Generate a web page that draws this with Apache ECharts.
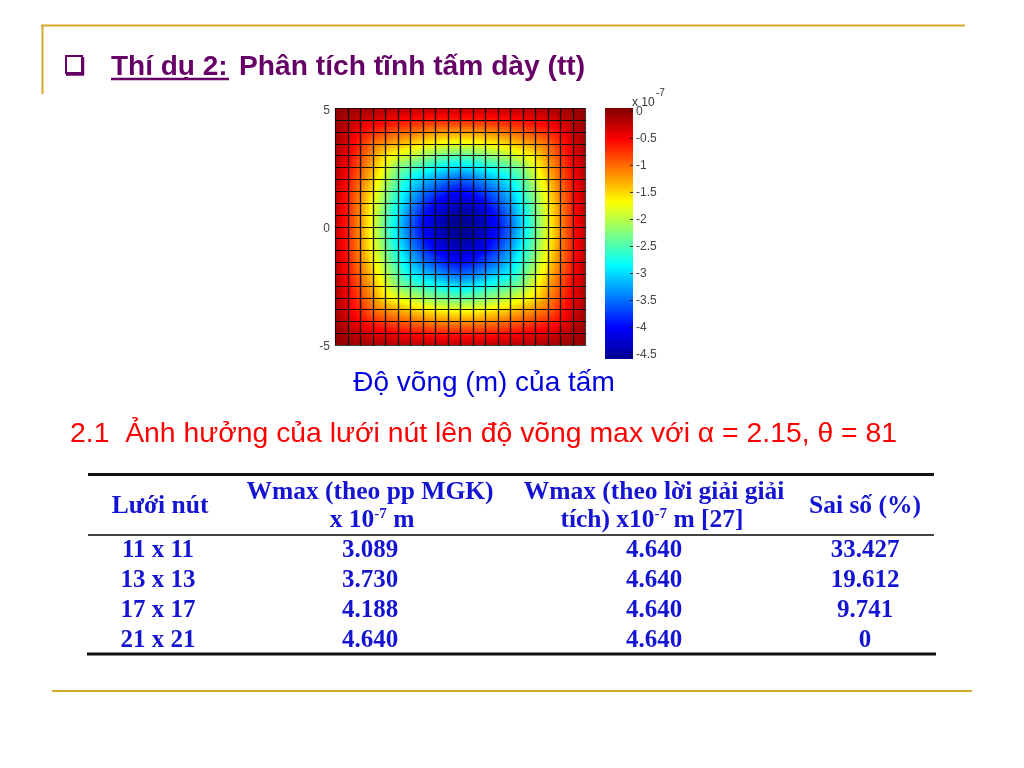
<!DOCTYPE html>
<html>
<head>
<meta charset="utf-8">
<style>html,body{margin:0;padding:0;background:#fff}#c{width:1024px;height:768px}</style>
<script src="https://cdn.jsdelivr.net/npm/echarts@6/dist/echarts.min.js"></script>
</head>
<body>
<div id="c"></div>
<script>
// Plate deflection, x 10^-7 m (21 x 21 nodes, top row first)
const xNodes = [-5,-4.5,-4,-3.5,-3,-2.5,-2,-1.5,-1,-0.5,0,0.5,1,1.5,2,2.5,3,3.5,4,4.5,5];
const yNodes = [5,4.5,4,3.5,3,2.5,2,1.5,1,0.5,0,-0.5,-1,-1.5,-2,-2.5,-3,-3.5,-4,-4.5,-5];
const deflection = [
[-0.02,-0.05,-0.08,-0.11,-0.14,-0.16,-0.18,-0.20,-0.21,-0.22,-0.22,-0.22,-0.21,-0.20,-0.18,-0.16,-0.14,-0.11,-0.08,-0.05,-0.02],
[-0.05,-0.16,-0.28,-0.38,-0.46,-0.52,-0.58,-0.62,-0.65,-0.66,-0.66,-0.66,-0.65,-0.62,-0.58,-0.52,-0.46,-0.38,-0.28,-0.16,-0.05],
[-0.08,-0.28,-0.55,-0.70,-0.82,-0.92,-1.00,-1.09,-1.15,-1.18,-1.20,-1.18,-1.15,-1.09,-1.00,-0.92,-0.82,-0.70,-0.55,-0.28,-0.08],
[-0.11,-0.38,-0.70,-1.02,-1.18,-1.32,-1.45,-1.58,-1.68,-1.74,-1.78,-1.74,-1.68,-1.58,-1.45,-1.32,-1.18,-1.02,-0.70,-0.38,-0.11],
[-0.14,-0.46,-0.82,-1.18,-1.58,-1.76,-1.96,-2.12,-2.26,-2.36,-2.42,-2.36,-2.26,-2.12,-1.96,-1.76,-1.58,-1.18,-0.82,-0.46,-0.14],
[-0.16,-0.52,-0.92,-1.32,-1.76,-2.24,-2.44,-2.62,-2.78,-2.92,-3.00,-2.92,-2.78,-2.62,-2.44,-2.24,-1.76,-1.32,-0.92,-0.52,-0.16],
[-0.18,-0.58,-1.00,-1.45,-1.96,-2.44,-2.86,-3.08,-3.28,-3.46,-3.56,-3.46,-3.28,-3.08,-2.86,-2.44,-1.96,-1.45,-1.00,-0.58,-0.18],
[-0.20,-0.62,-1.09,-1.58,-2.12,-2.62,-3.08,-3.46,-3.68,-3.88,-3.98,-3.88,-3.68,-3.46,-3.08,-2.62,-2.12,-1.58,-1.09,-0.62,-0.20],
[-0.21,-0.65,-1.15,-1.68,-2.26,-2.78,-3.28,-3.68,-3.98,-4.20,-4.30,-4.20,-3.98,-3.68,-3.28,-2.78,-2.26,-1.68,-1.15,-0.65,-0.21],
[-0.22,-0.66,-1.18,-1.74,-2.36,-2.92,-3.46,-3.88,-4.20,-4.42,-4.52,-4.42,-4.20,-3.88,-3.46,-2.92,-2.36,-1.74,-1.18,-0.66,-0.22],
[-0.22,-0.66,-1.20,-1.78,-2.42,-3.00,-3.56,-3.98,-4.30,-4.52,-4.64,-4.52,-4.30,-3.98,-3.56,-3.00,-2.42,-1.78,-1.20,-0.66,-0.22],
[-0.22,-0.66,-1.18,-1.74,-2.36,-2.92,-3.46,-3.88,-4.20,-4.42,-4.52,-4.42,-4.20,-3.88,-3.46,-2.92,-2.36,-1.74,-1.18,-0.66,-0.22],
[-0.21,-0.65,-1.15,-1.68,-2.26,-2.78,-3.28,-3.68,-3.98,-4.20,-4.30,-4.20,-3.98,-3.68,-3.28,-2.78,-2.26,-1.68,-1.15,-0.65,-0.21],
[-0.20,-0.62,-1.09,-1.58,-2.12,-2.62,-3.08,-3.46,-3.68,-3.88,-3.98,-3.88,-3.68,-3.46,-3.08,-2.62,-2.12,-1.58,-1.09,-0.62,-0.20],
[-0.18,-0.58,-1.00,-1.45,-1.96,-2.44,-2.86,-3.08,-3.28,-3.46,-3.56,-3.46,-3.28,-3.08,-2.86,-2.44,-1.96,-1.45,-1.00,-0.58,-0.18],
[-0.16,-0.52,-0.92,-1.32,-1.76,-2.24,-2.44,-2.62,-2.78,-2.92,-3.00,-2.92,-2.78,-2.62,-2.44,-2.24,-1.76,-1.32,-0.92,-0.52,-0.16],
[-0.14,-0.46,-0.82,-1.18,-1.58,-1.76,-1.96,-2.12,-2.26,-2.36,-2.42,-2.36,-2.26,-2.12,-1.96,-1.76,-1.58,-1.18,-0.82,-0.46,-0.14],
[-0.11,-0.38,-0.70,-1.02,-1.18,-1.32,-1.45,-1.58,-1.68,-1.74,-1.78,-1.74,-1.68,-1.58,-1.45,-1.32,-1.18,-1.02,-0.70,-0.38,-0.11],
[-0.08,-0.28,-0.55,-0.70,-0.82,-0.92,-1.00,-1.09,-1.15,-1.18,-1.20,-1.18,-1.15,-1.09,-1.00,-0.92,-0.82,-0.70,-0.55,-0.28,-0.08],
[-0.05,-0.16,-0.28,-0.38,-0.46,-0.52,-0.58,-0.62,-0.65,-0.66,-0.66,-0.66,-0.65,-0.62,-0.58,-0.52,-0.46,-0.38,-0.28,-0.16,-0.05],
[-0.02,-0.05,-0.08,-0.11,-0.14,-0.16,-0.18,-0.20,-0.21,-0.22,-0.22,-0.22,-0.21,-0.20,-0.18,-0.16,-0.14,-0.11,-0.08,-0.05,-0.02]
];
const colorMin = -4.58;
const colorMax = 0.06;
const jetStops = [[0,0,0,144],[0.125,0,0,255],[0.375,0,255,255],[0.625,255,255,0],[0.875,255,0,0],[1,128,0,0]];
const barTicks = [0,-0.5,-1,-1.5,-2,-2.5,-3,-3.5,-4,-4.5];

const titleLead = 'Thí dụ 2:';
const titleRest = 'Phân tích tĩnh tấm dày (tt)';
const captionText = 'Độ võng (m) của tấm';
const sectionText = '2.1  Ảnh hưởng của lưới nút lên độ võng max với α = 2.15, θ = 81';
const meshLabels = ['11 x 11','13 x 13','17 x 17','21 x 21'];
const wmaxFem = ['3.089','3.730','4.188','4.640'];
const wmaxExact = ['4.640','4.640','4.640','4.640'];
const errorPct = ['33.427','19.612','9.741','0'];

const GOLD = '#d6a92c', PURPLE = '#660066', TBLUE = '#1414d2';
const SUBDIV = 5;

function jet(v) {
  const t = Math.max(0, Math.min(1, (v - colorMin) / (colorMax - colorMin)));
  for (let k = 1; k < jetStops.length; k++) {
    const a = jetStops[k - 1], b = jetStops[k];
    if (t <= b[0]) {
      const f = (t - a[0]) / (b[0] - a[0]);
      return 'rgb(' + [1, 2, 3].map(c => Math.round(a[c] + (b[c] - a[c]) * f)).join(',') + ')';
    }
  }
  return 'rgb(128,0,0)';
}

const cells = [];
for (let r = 0; r < yNodes.length - 1; r++) {
  for (let c = 0; c < xNodes.length - 1; c++) cells.push([c, r]);
}

function renderCell(params, api) {
  const c = api.value(0), r = api.value(1);
  const p0 = api.coord([xNodes[c], yNodes[r]]);
  const p1 = api.coord([xNodes[c + 1], yNodes[r + 1]]);
  const w = p1[0] - p0[0], h = p1[1] - p0[1];
  const children = [];
  // interpolated shading between the four corner nodes of the cell
  for (let i = 0; i < SUBDIV; i++) {
    for (let j = 0; j < SUBDIV; j++) {
      const u = (i + 0.5) / SUBDIV, v = (j + 0.5) / SUBDIV;
      const val = deflection[r][c] * (1 - u) * (1 - v) + deflection[r][c + 1] * u * (1 - v)
        + deflection[r + 1][c] * (1 - u) * v + deflection[r + 1][c + 1] * u * v;
      const right = i === SUBDIV - 1 && c === xNodes.length - 2;
      const bottom = j === SUBDIV - 1 && r === yNodes.length - 2;
      children.push({
        type: 'rect',
        shape: { x: p0[0] + w * i / SUBDIV, y: p0[1] + h * j / SUBDIV,
          width: w / SUBDIV + (right ? 0 : 0.6), height: h / SUBDIV + (bottom ? 0 : 0.6) },
        style: { fill: jet(val) }, silent: true
      });
    }
  }
  return { type: 'group', children };
}

// mesh lines, drawn as their own series above all the shading
function renderMesh(params, api) {
  const c = api.value(0), r = api.value(1);
  const p0 = api.coord([xNodes[c], yNodes[r]]);
  const p1 = api.coord([xNodes[c + 1], yNodes[r + 1]]);
  const sx0 = Math.round(p0[0]) + 0.5, sy0 = Math.round(p0[1]) + 0.5;
  const sx1 = Math.round(p1[0]) + 0.5, sy1 = Math.round(p1[1]) + 0.5;
  return {
    type: 'rect',
    shape: { x: sx0, y: sy0, width: sx1 - sx0, height: sy1 - sy0 },
    style: { fill: 'none', stroke: 'rgba(10,10,10,0.78)', lineWidth: 1.2 }, silent: true
  };
}

function renderBar(params, api) {
  const a = api.coord([0, colorMax]), b = api.coord([1, colorMin]);
  const children = [{
    type: 'rect',
    shape: { x: a[0], y: a[1], width: b[0] - a[0], height: b[1] - a[1] },
    style: {
      fill: new echarts.graphic.LinearGradient(0, 1, 0, 0, jetStops.map(s => ({
        offset: s[0], color: 'rgb(' + s[1] + ',' + s[2] + ',' + s[3] + ')'
      })))
    }
  }];
  barTicks.forEach(t => {
    const p = api.coord([1, t]);
    children.push({ type: 'line', shape: { x1: p[0] - 3, y1: p[1], x2: p[0], y2: p[1] }, style: { stroke: '#222', lineWidth: 1 } });
  });
  return { type: 'group', children };
}

function hline(x1, x2, y, w, color) {
  return { type: 'line', shape: { x1, y1: y, x2, y2: y }, style: { stroke: color, lineWidth: w }, silent: true };
}
function vline(x, y1, y2, w, color) {
  return { type: 'line', shape: { x1: x, y1, x2: x, y2 }, style: { stroke: color, lineWidth: w }, silent: true };
}
function label(text, x, y, font, fill, align) {
  return { type: 'text', x, y, style: { text, font, fill, align: align || 'left', verticalAlign: 'middle' }, silent: true };
}
const TF = 'bold 25px "Liberation Serif"';
const HF = 'bold 25.5px "Liberation Serif"';
const supRich = {
  n: { font: HF, fill: TBLUE },
  s: { font: 'bold 15px "Liberation Serif"', fill: TBLUE, verticalAlign: 'top', padding: [0, 0, 10, 0] }
};
function richLabel(text, x, y) {
  return { type: 'text', x, y, style: { text, align: 'center', verticalAlign: 'middle', rich: supRich, fill: TBLUE, font: HF }, silent: true };
}

const colX = [158, 370, 654, 865];
const rowY = [551, 581, 611, 641];
const graphics = [
  hline(41, 965, 25.5, 2, GOLD), vline(42.5, 25, 94, 2, GOLD), hline(52, 972, 691, 2, GOLD),
  { type: 'rect', shape: { x: 66, y: 56, width: 16, height: 17 }, style: { fill: 'none', stroke: PURPLE, lineWidth: 2 }, silent: true },
  hline(66, 84, 74.5, 2.5, PURPLE), vline(83, 57, 75, 2.5, PURPLE),
  label(titleLead, 111, 67, 'bold 28px "Liberation Sans"', PURPLE),
  hline(111, 229, 79, 2.5, PURPLE),
  label(titleRest, 239, 67, 'bold 28.2px "Liberation Sans"', PURPLE),
  label(captionText, 484, 383, '28px "Liberation Sans"', '#0000dd', 'center'),
  label(sectionText, 70, 434, '28.35px "Liberation Sans"', '#ff0000'),
  label('x 10', 632, 103, '12px "Liberation Sans"', '#333333'),
  label('-7', 656, 93, '10px "Liberation Sans"', '#333333'),
  hline(88, 934, 474.5, 3, '#111111'), hline(88, 934, 535, 2, '#444444'), hline(87, 936, 654, 3, '#111111'),
  label('Lưới nút', 160, 506, HF, TBLUE, 'center'),
  label('Wmax (theo pp MGK)', colX[1], 492, HF, TBLUE, 'center'),
  richLabel('{n|x 10}{s|-7}{n| m}', 372, 520),
  label('Wmax (theo lời giải giải', colX[2], 492, HF, TBLUE, 'center'),
  richLabel('{n|tích) x10}{s|-7}{n| m [27]}', 652, 520),
  label('Sai số (%)', colX[3], 506, HF, TBLUE, 'center')
];
[meshLabels, wmaxFem, wmaxExact, errorPct].forEach((col, k) => {
  col.forEach((t, i) => graphics.push(label(t, colX[k], rowY[i], TF, TBLUE, 'center')));
});

const hiddenAxis = { type: 'value', axisLabel: { show: false }, axisTick: { show: false }, splitLine: { show: false }, axisLine: { show: false } };

const chart = echarts.init(document.getElementById('c'), null, { renderer: 'canvas' });
chart.setOption({
  animation: false,
  backgroundColor: '#ffffff',
  graphic: { elements: graphics },
  grid: [
    { left: 335, top: 108, width: 250, height: 237 },
    { left: 605, top: 108, width: 28, height: 251 },
    { left: 335, top: 111, width: 250, height: 236 }
  ],
  xAxis: [
    Object.assign({ gridIndex: 0, min: -5, max: 5 }, hiddenAxis),
    Object.assign({ gridIndex: 1, min: 0, max: 1 }, hiddenAxis),
    Object.assign({ gridIndex: 2, min: -5, max: 5 }, hiddenAxis)
  ],
  yAxis: [
    Object.assign({ gridIndex: 0, min: -5, max: 5 }, hiddenAxis),
    { gridIndex: 1, type: 'value', position: 'right', min: colorMin, max: colorMax,
      axisLabel: { color: '#444', fontSize: 12, fontFamily: 'Liberation Sans', margin: 3, customValues: barTicks },
      axisTick: { show: false }, splitLine: { show: false }, axisLine: { show: false } },
    { gridIndex: 2, type: 'value', min: -5, max: 5, interval: 5,
      axisLabel: { color: '#444', fontSize: 12, fontFamily: 'Liberation Sans', margin: 5 },
      axisTick: { show: false }, splitLine: { show: false }, axisLine: { show: false } }
  ],
  series: [
    { type: 'custom', name: 'deflection', xAxisIndex: 0, yAxisIndex: 0, renderItem: renderCell, data: cells, silent: true, clip: false, z: 2 },
    { type: 'custom', name: 'mesh', xAxisIndex: 0, yAxisIndex: 0, renderItem: renderMesh, data: cells, silent: true, clip: false, z: 3 },
    { type: 'custom', name: 'colorbar', xAxisIndex: 1, yAxisIndex: 1, renderItem: renderBar, data: [[0, colorMin]], silent: true, z: 2 }
  ]
});
</script>
</body>
</html>
